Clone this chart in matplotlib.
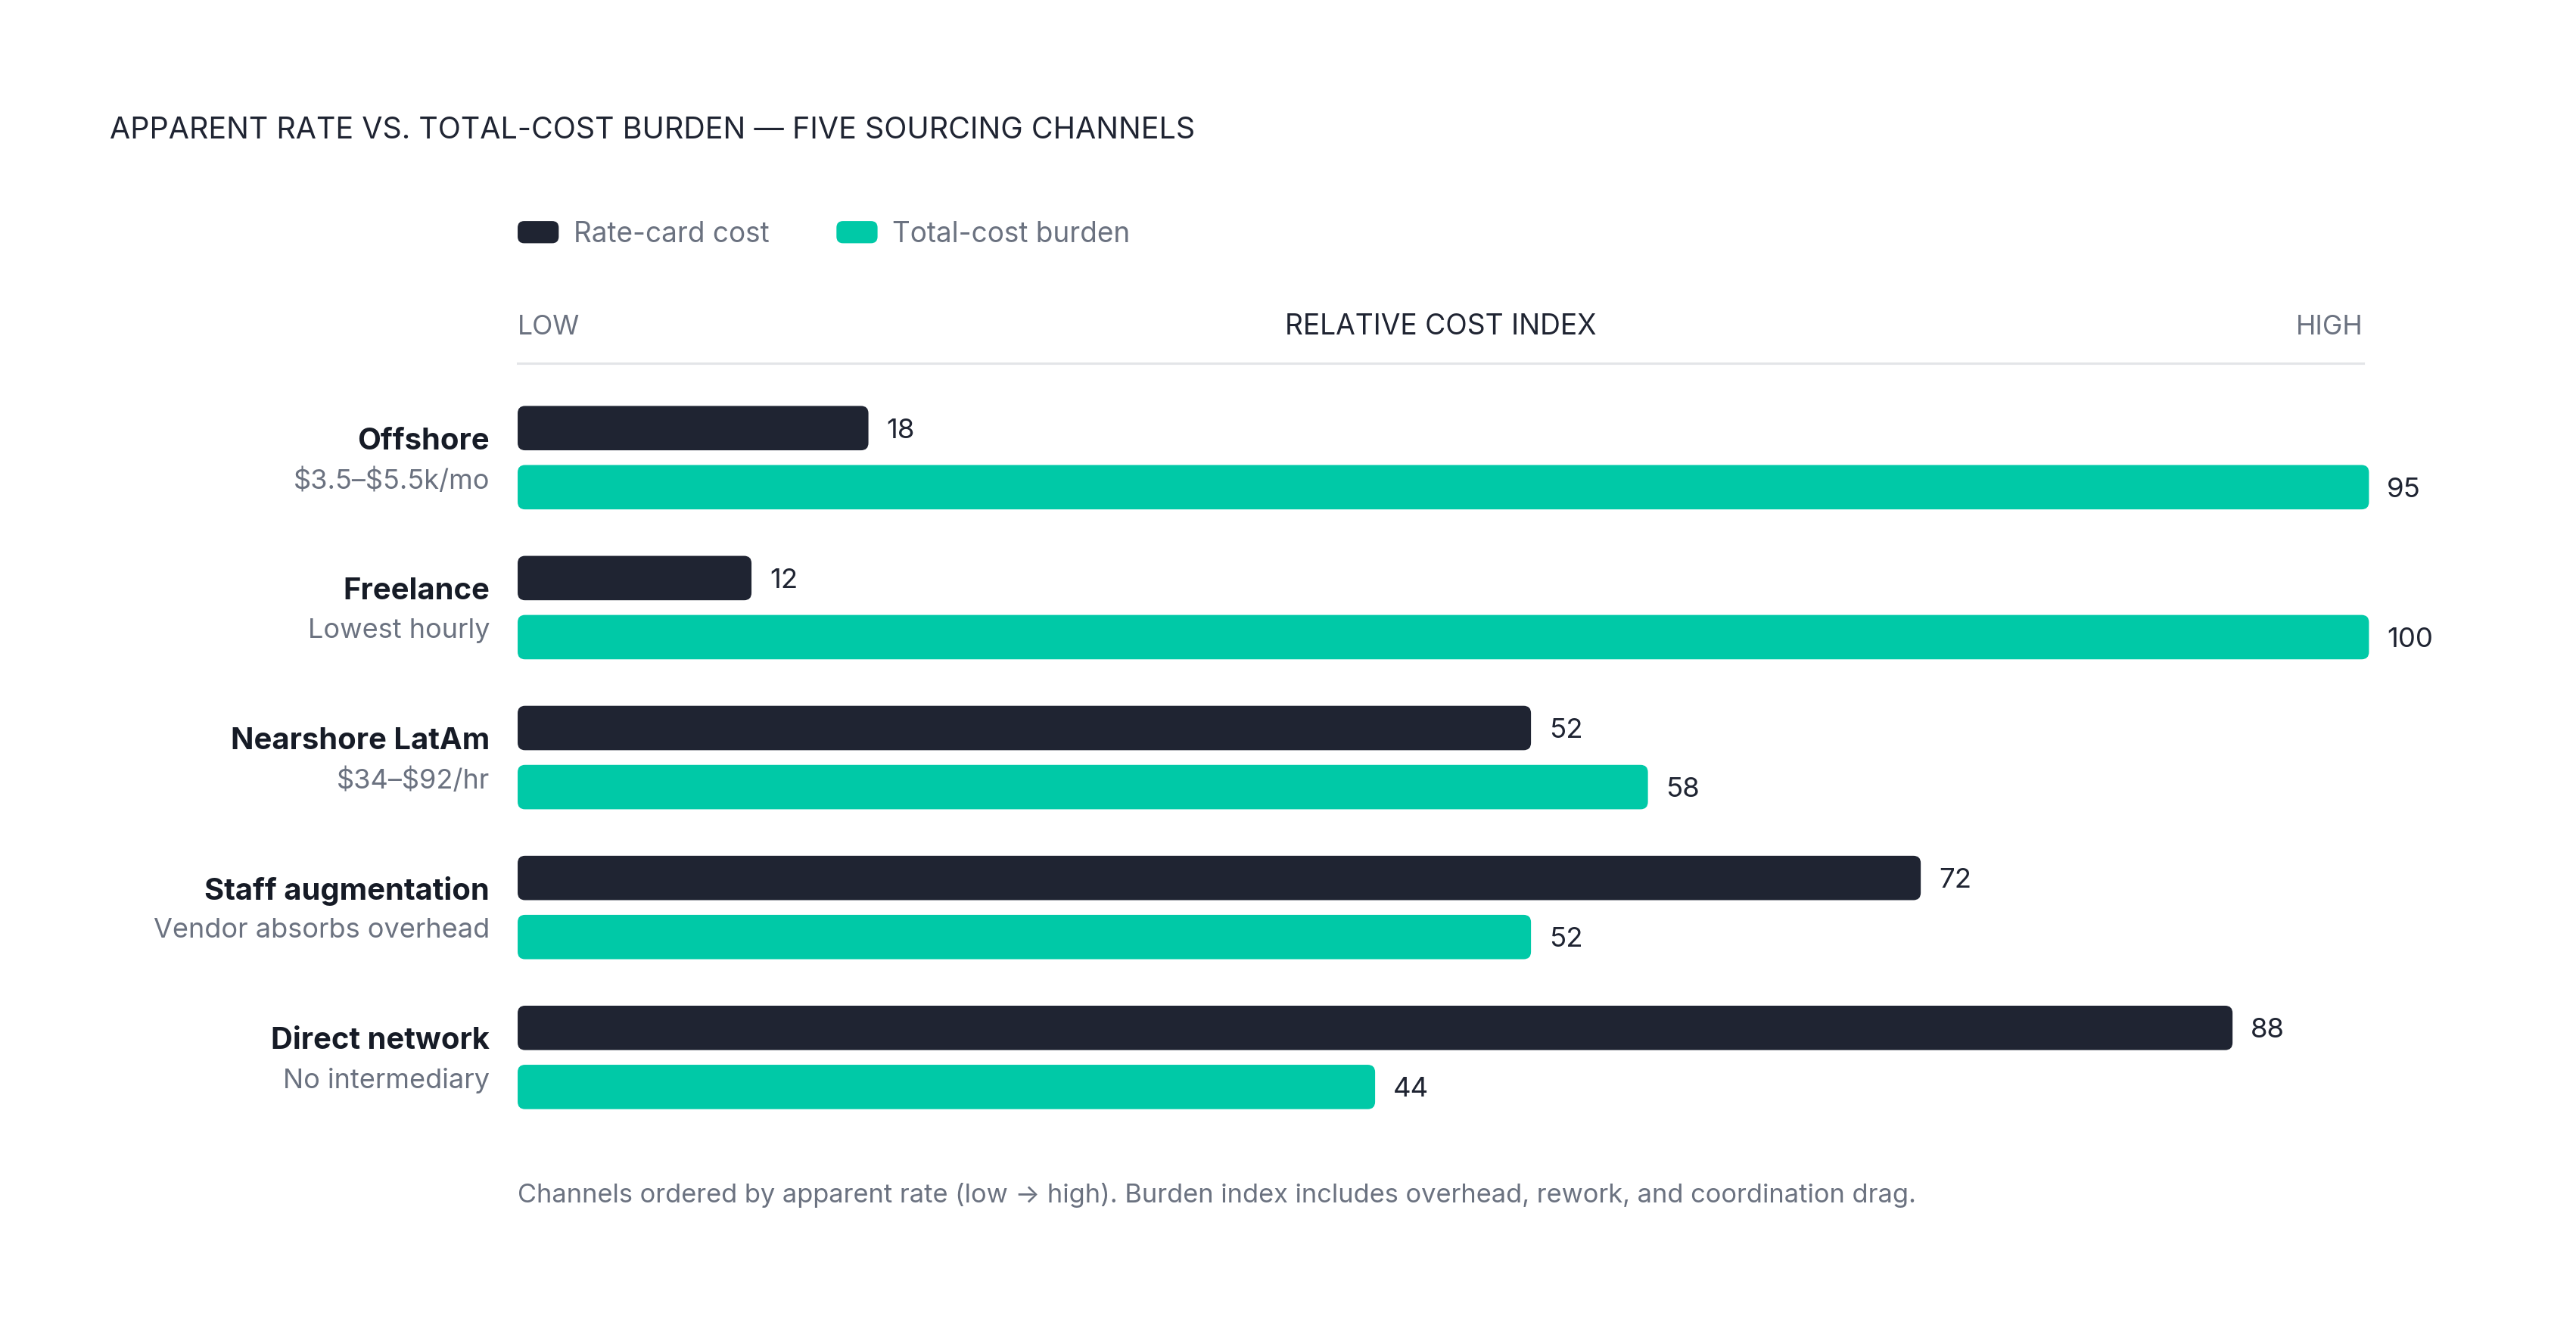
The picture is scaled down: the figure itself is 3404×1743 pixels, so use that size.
import matplotlib.pyplot as plt
import numpy as np
from matplotlib.patches import FancyBboxPatch

plt.rcParams['font.family'] = ['Inter', 'DejaVu Sans']

# ---------------- data ----------------
channels = ['Offshore', 'Freelance', 'Nearshore LatAm', 'Staff augmentation', 'Direct network']
notes = ['$3.5–$5.5k/mo', 'Lowest hourly', '$34–$92/hr', 'Vendor absorbs overhead', 'No intermediary']
rate_card = [18, 12, 52, 72, 88]
burden = [95, 100, 58, 52, 44]
series_names = ['Rate-card cost', 'Total-cost burden']

# ---------------- style ----------------
DARK = '#1f2432'
TEAL = '#00c9a7'
GRAY = '#6b7280'
RULE = '#e3e5e8'
AXIS_MAX = 94.7   # right end of the header rule
BAR_CAP = 95      # longer bars are clamped here

# layout measured on the reference at 1568 px wide; map to figure fractions
W, H = 1568.0, 802.6
def fx(px):
    return px / W
def fy(py):
    return 1 - py / H

fig = plt.figure(figsize=(17.025, 8.715), dpi=200)
fig.patch.set_facecolor('white')

ax = fig.add_axes([fx(315), fy(700), fx(1438) - fx(315), fy(221) - fy(700)])
ax.set_xlim(0, AXIS_MAX)
ax.set_ylim(4.62, -0.63)
for s in ['left', 'right', 'bottom']:
    ax.spines[s].set_visible(False)
ax.spines['top'].set_color(RULE)
ax.spines['top'].set_linewidth(1.1)
ax.set_xticks([])
ax.set_yticks([])

y = np.arange(len(channels))
bar_h = 0.296
off = 0.197
txt_dy = 0.017   # nudge text down a touch (bbox centre vs glyph centre)

# rounded corners: radius in x units, aspect converts to y units
px_per_x = 1123 / AXIS_MAX
px_per_y = 91.3
radius = 4.5 / px_per_x
aspect = px_per_x / px_per_y


def draw_bars(values, ypos, color):
    for v, yy in zip(values, ypos):
        w = min(v, BAR_CAP)
        p = FancyBboxPatch((0, yy - bar_h / 2), w, bar_h,
                           boxstyle='round,pad=0,rounding_size=%f' % radius,
                           mutation_aspect=aspect, facecolor=color,
                           edgecolor='none', clip_on=False)
        ax.add_patch(p)
        ax.annotate(str(v), xy=(w, yy), xytext=(8.6, -1.2), textcoords='offset points',
                    va='center', ha='left', fontsize=13.2, color=DARK,
                    annotation_clip=False)


draw_bars(rate_card, y - off, DARK)
draw_bars(burden, y + off, TEAL)

# category labels
for i in range(len(channels)):
    ax.text(-0.0151, y[i] - 0.126 + txt_dy, channels[i], transform=ax.get_yaxis_transform(),
            ha='right', va='center', fontsize=14.4, fontweight='bold', color='#161b26')
    ax.text(-0.0151, y[i] + 0.137 + txt_dy, notes[i], transform=ax.get_yaxis_transform(),
            ha='right', va='center', fontsize=13.0, color=GRAY, parse_math=False)

# axis header
ax.text(0, 1.046, 'LOW', transform=ax.transAxes, ha='left', va='center',
        fontsize=12.8, color=GRAY)
ax.text(1, 1.046, 'HIGH', transform=ax.transAxes, ha='right', va='center',
        fontsize=12.8, color=GRAY)
ax.text(0.5, 1.046, 'RELATIVE COST INDEX', transform=ax.transAxes, ha='center',
        va='center', fontsize=13.4, color=DARK)

# title
fig.text(fx(67), fy(79.5), 'APPARENT RATE VS. TOTAL-COST BURDEN — FIVE SOURCING CHANNELS',
         ha='left', va='center', fontsize=14.2, color=DARK)

# legend
leg_items = [(315, DARK, series_names[0]), (509, TEAL, series_names[1])]
for x0, col, name in leg_items:
    sw = FancyBboxPatch((fx(x0), fy(148)), fx(25), fy(134.5) - fy(148),
                        boxstyle='round,pad=0,rounding_size=%f' % fx(4),
                        mutation_aspect=W / H, transform=fig.transFigure,
                        facecolor=col, edgecolor='none')
    fig.patches.append(sw)
    fig.text(fx(x0 + 34), fy(142.8), name, ha='left', va='center',
             fontsize=13.3, color=GRAY)

# footnote
fig.text(fx(315), fy(727.5),
         'Channels ordered by apparent rate (low → high). Burden index includes overhead, rework, and coordination drag.',
         ha='left', va='center', fontsize=12.4, color=GRAY)

fig.savefig('out.png', dpi=200, facecolor='white')
